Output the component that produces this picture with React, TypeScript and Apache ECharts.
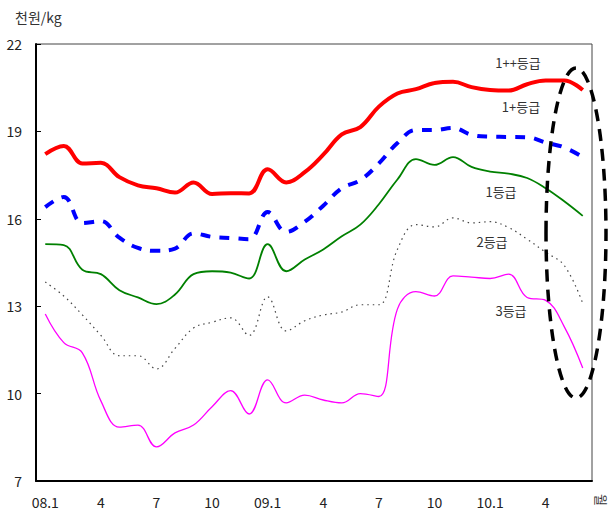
import React, { useEffect, useRef } from "react";
import * as echarts from "echarts";

const months = [
  "08.1","08.2","08.3","08.4","08.5","08.6","08.7","08.8","08.9","08.10","08.11","08.12",
  "09.1","09.2","09.3","09.4","09.5","09.6","09.7","09.8","09.9","09.10","09.11","09.12",
  "10.1","10.2","10.3","10.4","10.5","10.6",
];
const tickLabels = [
  "08.1","2","3","4","5","6","7","8","9","10","11","12",
  "09.1","2","3","4","5","6","7","8","9","10","11","12",
  "10.1","2","3","4","5","6",
];

const grade1pp = [18.22,18.5,17.9,17.92,17.43,17.15,17.05,16.9,17.25,16.85,16.88,16.87,17.7,17.25,17.6,18.2,18.9,19.15,19.85,20.3,20.45,20.66,20.7,20.52,20.42,20.4,20.62,20.75,20.75,20.42];
const grade1p = [16.4,16.75,15.85,15.92,15.35,15.0,14.9,14.98,15.5,15.38,15.34,15.3,16.23,15.55,15.9,16.45,17.05,17.33,17.9,18.6,19.05,19.05,19.12,18.88,18.82,18.81,18.8,18.62,18.45,18.12];
const grade1 = [15.13,15.1,14.25,14.1,13.55,13.3,13.07,13.4,14.1,14.2,14.15,13.95,15.13,14.2,14.6,14.95,15.4,15.8,16.5,17.35,18.05,17.85,18.12,17.78,17.62,17.55,17.4,17.05,16.6,16.1];
const grade2 = [13.83,13.35,12.7,12.0,11.3,11.3,10.85,11.55,12.25,12.45,12.6,12.0,13.32,12.15,12.5,12.7,12.8,13.05,13.05,14.95,15.8,15.72,16.03,15.86,15.9,15.7,15.3,14.85,14.4,13.1];
const grade3 = [12.73,11.75,11.4,9.75,8.85,8.92,8.17,8.65,8.92,9.55,10.1,9.3,10.47,9.68,9.95,9.78,9.68,10.0,9.9,12.9,13.5,13.35,14.04,14.0,13.95,14.1,13.3,13.2,12.3,10.88];

const seriesNames = ["1++등급", "1+등급", "1등급", "2등급", "3등급"];

const FONT = '"Liberation Sans Narrow", "Noto Sans CJK KR", Arial, sans-serif';
const KFONT = '"Noto Sans CJK KR", "Liberation Sans Narrow", sans-serif';

export default function App() {
  const ref = useRef<HTMLDivElement>(null);
  useEffect(() => {
    if (!ref.current) return;
    const chart = echarts.init(ref.current, undefined, { renderer: "svg" });
    const labelStyle = { fill: "#333", fontSize: 13, fontFamily: KFONT };
    chart.setOption({
      animation: false,
      backgroundColor: "#fff",
      grid: {
        left: 36, right: 18, top: 44, bottom: 31,
        show: true, borderColor: "#444", borderWidth: 1,
      },
      xAxis: {
        type: "category",
        data: months,
        boundaryGap: true,
        axisLine: { lineStyle: { color: "#000", width: 2 } },
        axisTick: { inside: true, length: 6, interval: 0, lineStyle: { color: "#000", width: 1 } },
        axisLabel: {
          interval: 2,
          margin: 14,
          fontSize: 14,
          color: "#222",
          fontFamily: FONT,
          formatter: (_v: string, i: number) => tickLabels[i],
        },
        splitLine: { show: false },
      },
      yAxis: {
        type: "value",
        min: 7,
        max: 22,
        interval: 3,
        axisLine: { show: true, lineStyle: { color: "#000", width: 2 } },
        axisTick: { show: true, inside: true, length: 5, lineStyle: { color: "#000" } },
        axisLabel: { margin: 14, fontSize: 14, color: "#222", fontFamily: FONT },
        splitLine: { show: false },
      },
      series: [
        { name: seriesNames[0], type: "line", data: grade1pp, smooth: 0.4, symbol: "none",
          lineStyle: { color: "#ff0000", width: 4 } },
        { name: seriesNames[1], type: "line", data: grade1p, smooth: 0.4, symbol: "none",
          lineStyle: { color: "#0000ff", width: 4, type: [10, 9] } },
        { name: seriesNames[2], type: "line", data: grade1, smooth: 0.4, symbol: "none",
          lineStyle: { color: "#008000", width: 1.8 } },
        { name: seriesNames[3], type: "line", data: grade2, smooth: 0.4, symbol: "none",
          lineStyle: { color: "#444", width: 1.2, type: [1.5, 4] } },
        { name: seriesNames[4], type: "line", data: grade3, smooth: 0.4, symbol: "none",
          lineStyle: { color: "#ff00ff", width: 1.3 } },
      ],
      graphic: [
        { type: "text", left: 15, top: 10, style: { text: "천원/kg", fill: "#333", fontSize: 14, fontFamily: KFONT } },
        { type: "text", x: 518, y: 62, style: { ...labelStyle, text: seriesNames[0], align: "center", verticalAlign: "middle" } },
        { type: "text", x: 521, y: 106, style: { ...labelStyle, text: seriesNames[1], align: "center", verticalAlign: "middle" } },
        { type: "text", x: 501, y: 191, style: { ...labelStyle, text: seriesNames[2], align: "center", verticalAlign: "middle" } },
        { type: "text", x: 492, y: 241, style: { ...labelStyle, text: seriesNames[3], align: "center", verticalAlign: "middle" } },
        { type: "text", x: 511, y: 310, style: { ...labelStyle, text: seriesNames[4], align: "center", verticalAlign: "middle" } },
        { type: "text", x: 601, y: 500, rotation: -Math.PI / 2,
          style: { text: "월", fill: "#333", fontSize: 13, fontFamily: KFONT, align: "center", verticalAlign: "middle" } },
        { type: "ellipse", shape: { cx: 576, cy: 233, rx: 30, ry: 165 },
          style: { fill: "none", stroke: "#000", lineWidth: 3.5, lineDash: [12, 8] }, z: 100 },
      ],
    });
    return () => chart.dispose();
  }, []);
  return <div ref={ref} style={{ position: "absolute", left: 0, top: 0, width: 610, height: 512 }} />;
}
